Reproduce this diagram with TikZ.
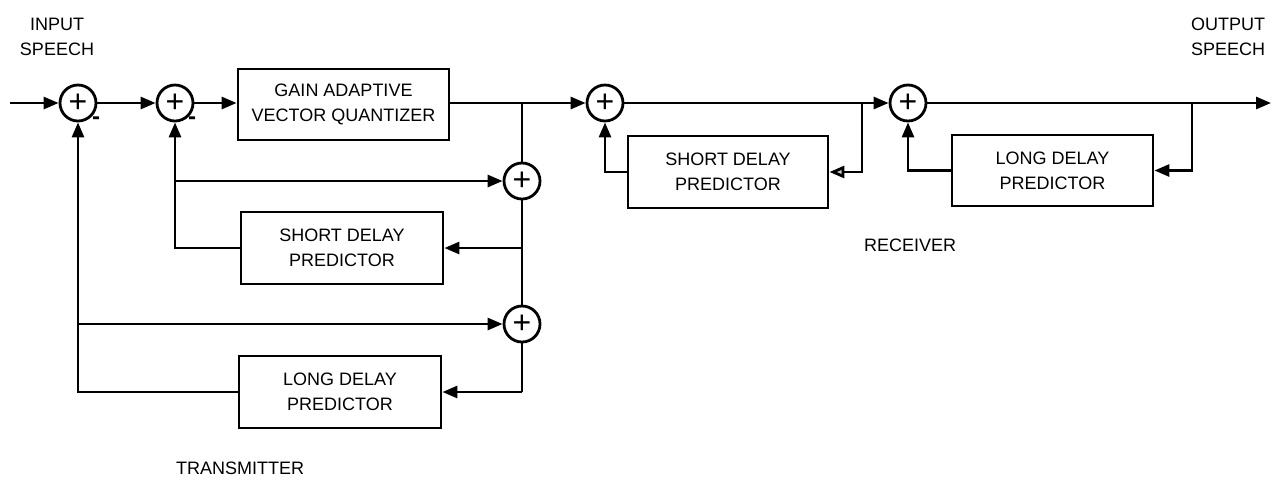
\documentclass[tikz,border=0pt]{standalone}
\usepackage{fontspec}
\setmainfont{Liberation Sans}
\usetikzlibrary{arrows.meta}
\tikzset{
  lbl/.style={font=\fontsize{9}{12.5}\selectfont, align=center, inner sep=0pt},
  blk/.style={draw, line width=1.4pt, inner sep=0pt, font=\fontsize{9}{12.5}\selectfont, align=center},
  sum/.style={draw, circle, line width=1.4pt, minimum size=18pt, inner sep=0pt, font=\fontsize{16}{16}\selectfont},
  wire/.style={line width=1.4pt},
  arr/.style={wire, -{Triangle[length=7.5pt,width=6pt]}},
  oarr/.style={wire, -{Triangle[open,length=7.5pt,width=6pt,fill=gray!40]}},
  minus/.style={inner sep=0pt, font=\fontsize{12}{12}\selectfont\bfseries},
}
\begin{document}
\begin{tikzpicture}[x=0.5pt,y=-0.5pt]
\useasboundingbox (0,0) rectangle (1272,494);
% labels
\node[lbl] (inl) at (57,37) {INPUT\\SPEECH};
\node[lbl] (outl) at (1228,37) {OUTPUT\\SPEECH};
\node[lbl] (tx) at (240,468) {TRANSMITTER};
\node[lbl] (rx) at (910,245) {RECEIVER};
% transmitter
\node[sum] (c1) at (78,103) {+};
\node[sum] (c2) at (175,103) {+};
\node[minus] (m1) at (96,121) {-};
\node[minus] (m2) at (192,121) {-};
\node[blk, minimum width=105.5pt, minimum height=35.5pt] (q) at (343.5,104.5) {GAIN ADAPTIVE\\VECTOR QUANTIZER};
\node[sum] (c4) at (522,181) {+};
\node[sum] (c5) at (522,324) {+};
\node[blk, minimum width=101pt, minimum height=36pt] (sdt) at (342,248) {SHORT DELAY\\PREDICTOR};
\node[blk, minimum width=101pt, minimum height=36pt] (ldt) at (340,392) {LONG DELAY\\PREDICTOR};
% receiver
\node[sum] (c3) at (605,103) {+};
\node[sum] (c6) at (908,103) {+};
\node[blk, minimum width=100pt, minimum height=36pt] (sdr) at (728,172) {SHORT DELAY\\PREDICTOR};
\node[blk, minimum width=100.5pt, minimum height=35.5pt] (ldr) at (1052.5,170.5) {LONG DELAY\\PREDICTOR};
% coordinates
\coordinate (in) at (10,103);
\coordinate (j1) at (522,103);
\coordinate (j2) at (862,103);
\coordinate (j3) at (1192,103);
\coordinate (out) at (1271,103);
\coordinate (j4) at (522,248);
\coordinate (j5) at (522,392);
% main line
\draw[arr] (in) -- (c1);
\draw[arr] (c1) -- (c2);
\draw[arr] (c2) -- (c2 -| q.west);
\draw[wire] (j1 -| q.east) -- (j1);
\draw[arr] (j1) -- (c3);
\draw[wire] (c3) -- (j2);
\draw[arr] (j2) -- (c6);
\draw[wire] (c6) -- (j3);
\draw[arr] (j3) -- (out);
% transmitter feedback
\draw[wire] (j1) -- (c4.north);
\draw[wire] (c4.south) -- (j4) -- (c5.north);
\draw[arr] (j4) -- (sdt.east);
\draw[wire] (c5.south) -- (j5);
\draw[arr] (j5) -- (ldt.east);
\draw[arr] (sdt.west) -| (c2.south);
\draw[arr] (ldt.west) -| (c1.south);
\draw[arr] (c2.south |- c4.west) -- (c4.west);
\draw[arr] (c1.south |- c5.west) -- (c5.west);
% receiver feedback
\draw[arr] (sdr.west) -| (c3.south);
\draw[oarr] (j2) |- (sdr.east);
\draw[arr] (ldr.west) -| (c6.south);
\draw[arr] (j3) |- (ldr.east);
\end{tikzpicture}
\end{document}
